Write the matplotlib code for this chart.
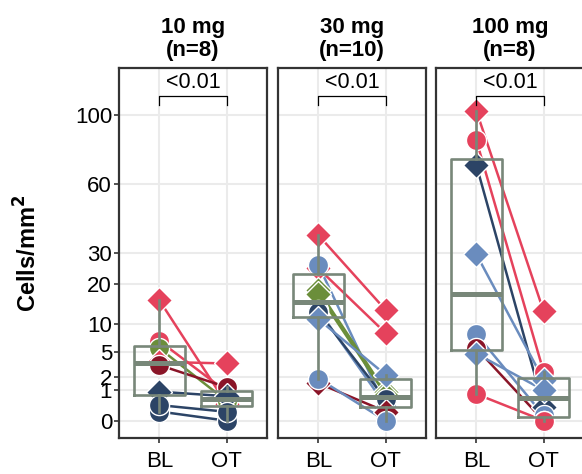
import numpy as np
import matplotlib.pyplot as plt
from matplotlib import cbook

plt.rcParams['font.family'] = ['Liberation Sans', 'DejaVu Sans']

# ---- data ----
doses = ['10 mg', '30 mg', '100 mg']
n_subj = [8, 10, 8]
timepoints = ['BL', 'OT']
pvals = ['<0.01', '<0.01', '<0.01']

bl_10 = [15.5, 6.8, 5.6, 3.7, 3.3, 0.9, 0.09, 0.26]
ot_10 = [0.3, 0.9, 0.42, 3.5, 1.2, 0.64, 0.0, 0.084]
grp_10 = ['pink', 'pink', 'green', 'pink', 'darkred', 'navy', 'navy', 'navy']
shp_10 = ['D', 'o', 'o', 'D', 'o', 'D', 'o', 'o']

bl_30 = [36.8, 24.8, 25.9, 18.2, 17.2, 13.1, 12.6, 11.0, 1.5, 1.9]
ot_30 = [13.1, 8.2, 0.2, 0.9, 0.72, 0.25, 0.49, 2.25, 0.09, 0.0]
grp_30 = ['pink', 'pink', 'lightblue', 'green', 'green', 'lightblue', 'navy',
          'lightblue', 'darkred', 'lightblue']
shp_30 = ['D', 'D', 'o', 'D', 'D', 'o', 'o', 'D', 'D', 'o']

bl_100 = [102.6, 84.0, 69.8, 29.6, 8.0, 5.6, 4.8, 0.76]
ot_100 = [12.8, 2.56, 0.21, 1.77, 0.03, 0.0, 1.0, 0.0]
grp_100 = ['pink', 'pink', 'navy', 'lightblue', 'lightblue', 'darkred',
           'lightblue', 'pink']
shp_100 = ['D', 'o', 'D', 'D', 'o', 'o', 'D', 'o']

y_ticks = [0, 1, 2, 5, 10, 20, 30, 60, 100]

palette = {'pink': '#E5425C', 'darkred': '#8A1528', 'navy': '#2C4466',
           'lightblue': '#6A8CBE', 'green': '#6B8E3A'}
box_col = '#788779'
frame_col = '#333333'

panels = [(bl_10, ot_10, grp_10, shp_10),
          (bl_30, ot_30, grp_30, shp_30),
          (bl_100, ot_100, grp_100, shp_100)]


def fwd(v):
    v = np.asarray(v, dtype=float)
    return np.sign(v) * np.sqrt(np.abs(v))


def inv(v):
    v = np.asarray(v, dtype=float)
    return np.sign(v) * v ** 2


fig = plt.figure(figsize=(5.82, 4.74), dpi=100)
W, H = 582, 474
lefts = [119, 278, 436]
pw, top, bot = 148, 68.3, 438

for i, (bl, ot, grp, shp) in enumerate(panels):
    ax = fig.add_axes([lefts[i] / W, (H - bot) / H, pw / W, (bot - top) / H])
    ax.set_yscale('function', functions=(fwd, inv))
    ax.set_yticks(y_ticks)
    ax.minorticks_off()
    ax.grid(True, color='#EBEBEB', lw=1.5, zorder=0)
    ax.set_axisbelow(True)
    for s in ax.spines.values():
        s.set_color(frame_col)
        s.set_linewidth(1.6)

    # subject lines
    for b, o, g in zip(bl, ot, grp):
        ax.plot([1, 2], [b, o], color=palette[g], lw=1.8, zorder=2,
                solid_capstyle='butt')
    # points
    for b, o, g, m in zip(bl, ot, grp, shp):
        ms = 14.5 if m == 'o' else 13
        ax.plot([1, 2], [b, o], ls='none', marker=m, ms=ms,
                mfc=palette[g], mec='white', mew=1.0, zorder=3)

    # boxplots, stats on the sqrt scale like ggplot
    stats = []
    for vals in (bl, ot):
        st = cbook.boxplot_stats(fwd(vals), whis=1.5)[0]
        for k in ('med', 'q1', 'q3', 'whislo', 'whishi', 'mean'):
            st[k] = float(inv(st[k]))
        st['fliers'] = []
        stats.append(st)
    ax.bxp(stats, positions=[1, 2], widths=0.75, showfliers=False,
           showcaps=False, zorder=4,
           boxprops=dict(color=box_col, lw=1.9),
           whiskerprops=dict(color=box_col, lw=1.9),
           medianprops=dict(color=box_col, lw=3.6))
    ax.set_xticks([1, 2])
    ax.set_xticklabels(timepoints)
    ax.set_xlim(0.4, 2.6)
    ax.set_ylim(-0.32, 132.7)

    ax.tick_params(length=3.5, width=1.2, color=frame_col, labelsize=16,
                   labelcolor='black')
    ax.tick_params(axis='x', pad=6)
    ax.tick_params(axis='y', pad=1.5)
    if i == 0:
        ax.set_yticklabels([str(t) for t in y_ticks])
        ax.set_ylabel('Cells/mm$^\\mathbf{2}$', fontsize=17, fontweight='bold',
                      labelpad=24)
    else:
        ax.tick_params(axis='y', left=False, labelleft=False)

    # significance bracket
    ax.plot([1, 1, 2, 2], [106.5, 112.6, 112.6, 106.5], color='black',
            lw=0.9, zorder=5, clip_on=False)
    ax.text(1.5, 114.5, pvals[i], ha='center', va='bottom', fontsize=15.5)

    ax.set_title(f'{doses[i]}\n(n={n_subj[i]})', fontsize=16,
                 fontweight='bold', pad=9, linespacing=1.1)

fig.savefig('out.png', dpi=100)
